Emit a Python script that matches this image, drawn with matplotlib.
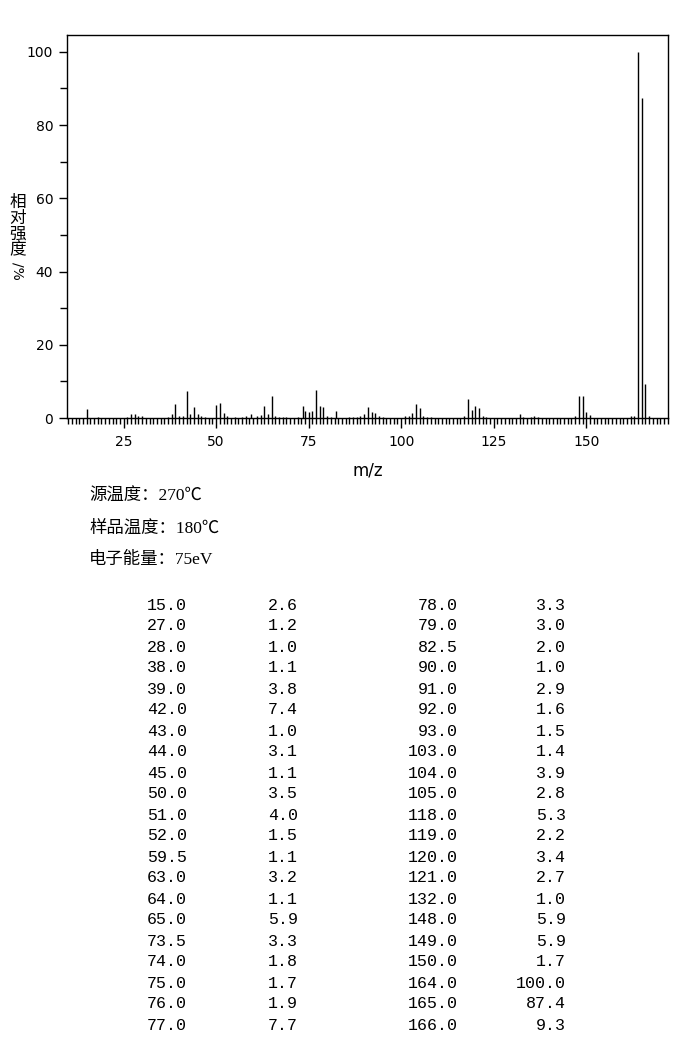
import matplotlib.pyplot as plt
from matplotlib.ticker import MultipleLocator

# Picos listados en la tabla (m/z, intensidad relativa %)
mz = [15.0, 27.0, 28.0, 38.0, 39.0, 42.0, 43.0, 44.0, 45.0, 50.0,
      51.0, 52.0, 59.5, 63.0, 64.0, 65.0, 73.5, 74.0, 75.0, 76.0,
      77.0, 78.0, 79.0, 82.5, 90.0, 91.0, 92.0, 93.0, 103.0, 104.0,
      105.0, 118.0, 119.0, 120.0, 121.0, 132.0, 148.0, 149.0, 150.0, 164.0,
      165.0, 166.0]
intensidad = [2.6, 1.2, 1.0, 1.1, 3.8, 7.4, 1.0, 3.1, 1.1, 3.5,
              4.0, 1.5, 1.1, 3.2, 1.1, 5.9, 3.3, 1.8, 1.7, 1.9,
              7.7, 3.3, 3.0, 2.0, 1.0, 2.9, 1.6, 1.5, 1.4, 3.9,
              2.8, 5.3, 2.2, 3.4, 2.7, 1.0, 5.9, 5.9, 1.7, 100.0,
              87.4, 9.3]

mz_menor = [18, 26, 29, 30, 37, 40, 41, 46, 47, 53, 55, 57, 58, 61, 62,
            66, 67, 68, 69, 72, 80, 81, 86, 87, 88, 89, 94, 95, 101, 102,
            106, 107, 108, 117, 122, 123, 133, 135, 136, 137, 147, 151, 162, 163, 167]
int_menor = [0.4, 0.3, 0.6, 0.5, 0.4, 0.6, 0.5, 0.5, 0.3, 0.6, 0.3, 0.4, 0.6, 0.5, 0.7,
             0.6, 0.4, 0.3, 0.3, 0.4, 0.6, 0.4, 0.3, 0.3, 0.4, 0.6, 0.6, 0.3, 0.5, 0.6,
             0.6, 0.4, 0.3, 0.6, 0.6, 0.4, 0.4, 0.3, 0.5, 0.4, 0.5, 0.7, 0.6, 0.5, 0.5]

info = ['源温度：270℃', '样品温度：180℃', '电子能量：75eV']

fig = plt.figure(figsize=(6.96, 10.49), dpi=100)
ax = fig.add_axes([0.0963, 0.6015, 0.8635, 0.3651])

ax.vlines(mz, 0, intensidad, colors='black', linewidth=1.0)
ax.vlines(mz_menor, 0, int_menor, colors='black', linewidth=1.0)

ax.set_xlim(9.7, 172.1)
ax.set_ylim(0, 104.6)
ax.xaxis.set_major_locator(MultipleLocator(25))
ax.xaxis.set_minor_locator(MultipleLocator(1))
ax.yaxis.set_major_locator(MultipleLocator(20))
ax.yaxis.set_minor_locator(MultipleLocator(10))
ax.tick_params(axis='x', which='major', direction='out', length=7, width=1,
               labelsize=10, pad=5)
ax.tick_params(axis='y', which='major', direction='out', length=6, width=1,
               labelsize=10, pad=4)
ax.tick_params(axis='x', which='minor', direction='out', length=4, width=1)
ax.tick_params(axis='y', which='minor', direction='out', length=5, width=1)
for s in ax.spines.values():
    s.set_linewidth(1.0)

ax.set_xlabel('m/z', fontsize=12, labelpad=9)

# Etiqueta del eje y apilada en vertical
fig.text(0.025, 1 - 226 / 1049, '相\n对\n强\n度', fontsize=12, ha='center', va='center',
         family=['Noto Sans CJK SC', 'DejaVu Sans'], linespacing=0.9)
fig.text(0.025, 1 - 262 / 1049, '/%', fontsize=10, ha='center', va='top', rotation=-90)

# Condiciones
for i, t in enumerate(info):
    fig.text(89 / 696, 1 - (497 + 31.5 * i) / 1049, t, fontsize=12.5, ha='left', va='center',
             family=['Liberation Serif', 'Noto Sans CJK SC', 'DejaVu Sans'])

# Tabla de picos en dos bloques
n = 21
for i in range(len(mz)):
    col = i // n
    fila = i % n
    y = 1 - (605 + 21 * fila) / 1049
    x1 = (187 if col == 0 else 458) / 696
    x2 = (298 if col == 0 else 566) / 696
    fig.text(x1, y, '%.1f' % mz[i], fontsize=12, ha='right', va='center', family='Liberation Mono')
    fig.text(x2, y, '%.1f' % intensidad[i], fontsize=12, ha='right', va='center', family='Liberation Mono')

fig.savefig('out.png', dpi=100)
